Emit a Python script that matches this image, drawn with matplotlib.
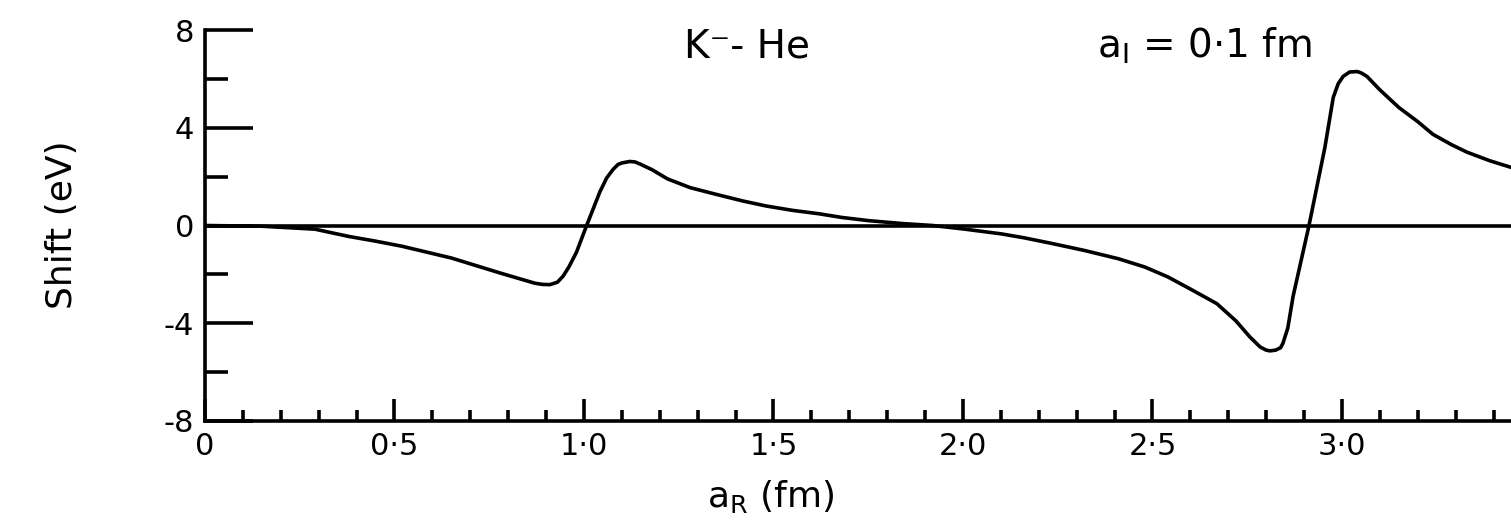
import matplotlib
matplotlib.use("Agg")
import matplotlib.pyplot as plt

plt.rcParams["font.family"] = ["DejaVu Sans"]

# level shift vs real part of the scattering length (a_I = 0.1 fm)
a_r = [0.00, 0.15, 0.29, 0.38, 0.45, 0.52, 0.65, 0.78, 0.87, 0.89, 0.91,
       0.93, 0.945, 0.96, 0.98, 1.007, 1.042, 1.06, 1.077, 1.09, 1.10,
       1.121, 1.135, 1.15, 1.18, 1.22, 1.28, 1.35, 1.42, 1.48, 1.55, 1.62,
       1.68, 1.75, 1.84, 1.92, 2.00, 2.10, 2.16, 2.23, 2.32, 2.41, 2.48,
       2.54, 2.60, 2.67, 2.72, 2.757, 2.784, 2.80, 2.81, 2.825, 2.838,
       2.844, 2.857, 2.871, 2.913, 2.955, 2.977, 2.99, 3.003, 3.02, 3.04,
       3.05, 3.066, 3.10, 3.15, 3.20, 3.24, 3.29, 3.33, 3.39, 3.45]
shift = [0.0, -0.03, -0.15, -0.45, -0.64, -0.85, -1.33, -1.95, -2.36, -2.41,
         -2.42, -2.32, -2.07, -1.7, -1.1, 0.0, 1.38, 1.95, 2.30, 2.5, 2.56,
         2.62, 2.6, 2.5, 2.28, 1.91, 1.55, 1.27, 1.0, 0.8, 0.62, 0.48, 0.33,
         0.2, 0.08, 0.0, -0.14, -0.34, -0.5, -0.72, -1.02, -1.36, -1.7, -2.1,
         -2.6, -3.2, -3.9, -4.56, -4.97, -5.1, -5.13, -5.1, -5.0, -4.83,
         -4.2, -2.9, 0.0, 3.2, 5.24, 5.8, 6.1, 6.28, 6.3, 6.25, 6.1, 5.55,
         4.83, 4.25, 3.73, 3.3, 3.0, 2.65, 2.36]

x_major = [0, 0.5, 1.0, 1.5, 2.0, 2.5, 3.0]
x_labels = ["0", "0·5", "1·0", "1·5", "2·0", "2·5", "3·0"]
x_minor = [i / 10 for i in range(0, 35)]
y_major = [-8, -4, 0, 4, 8]
y_labels = ["-8", "-4", "0", "4", "8"]
y_minor = [-6, -2, 2, 6]

fig = plt.figure(figsize=(15.11, 5.25), dpi=100)
ax = fig.add_axes([205 / 1511, 104 / 525, 1306 / 1511, 391 / 525])

lw = 2.6
ax.plot(a_r, shift, color="black", lw=lw, solid_joinstyle="round")
ax.axhline(0, color="black", lw=lw)

ax.set_xlim(0, 3.446)
ax.set_ylim(-8, 8)

for side in ["top", "right"]:
    ax.spines[side].set_visible(False)
for side in ["left", "bottom"]:
    ax.spines[side].set_linewidth(lw)

ax.set_xticks(x_major, x_labels)
ax.set_xticks(x_minor, minor=True)
ax.set_yticks(y_major, y_labels)
ax.set_yticks(y_minor, minor=True)

ax.tick_params(axis="both", which="both", direction="in", width=lw,
               labelsize=22)
ax.tick_params(axis="x", which="major", length=16, pad=8)
ax.tick_params(axis="x", which="minor", length=8)
ax.tick_params(axis="y", which="major", length=34.5, pad=8)
ax.tick_params(axis="y", which="minor", length=16.5)

fig.text(62 / 1511, 1 - 225 / 525, "Shift (eV)", rotation=90,
         ha="center", va="center", fontsize=26)
fig.text(771 / 1511, 1 - 507 / 525, r"$\mathregular{a_R}$ (fm)",
         ha="center", va="baseline", fontsize=26)
fig.text(747 / 1511, 1 - 57 / 525, "K⁻- He",
         ha="center", va="baseline", fontsize=28)
fig.text(1204 / 1511, 1 - 58 / 525, r"$\mathregular{a_I}$ = 0·1 fm",
         ha="center", va="baseline", fontsize=28)

fig.savefig("out.png", dpi=100)
